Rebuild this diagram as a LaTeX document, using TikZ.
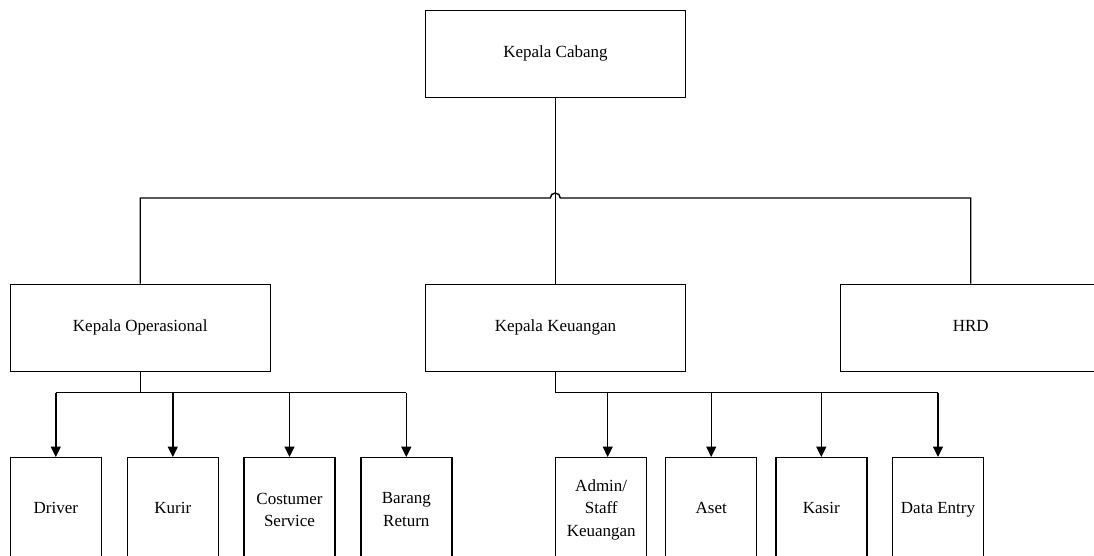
\documentclass[tikz,border=0pt]{standalone}
\usepackage{fontspec}
\setmainfont{Liberation Serif}
\usetikzlibrary{arrows.meta,calc}
\begin{document}
\begin{tikzpicture}[x=1pt,y=-1pt,
  box/.style={draw,line width=1.4pt,inner sep=0pt,minimum width=260pt,minimum height=87pt,
    font=\fontsize{17}{22.5}\selectfont,align=center,text height=11.5pt,text depth=3.5pt},
  sub/.style={draw,line width=1.4pt,inner sep=0pt,minimum width=91pt,minimum height=104pt,
    font=\fontsize{17}{22.5}\selectfont,align=center},
  one/.style={text height=11.5pt,text depth=3.5pt},
  conn/.style={line width=1.4pt},
  arr/.style={line width=1.4pt,-{Triangle[length=10.5pt,width=10pt]}}]
\useasboundingbox (0,0) rectangle (1094,556);
\clip (0,0) rectangle (1094,556);
\fill[white] (0,0) rectangle (1094,556);
% top
\node[box] (kc) at (555.5,53.8) {Kepala Cabang};
\node[box] (ko) at (140.2,327.7) {Kepala Operasional};
\node[box] (kk) at (555.5,327.7) {Kepala Keuangan};
\node[box] (hrd) at (970.7,327.7) {HRD};
% bottom left
\node[sub,one] (driver) at (55.8,509.7) {Driver};
\node[sub,one] (kurir) at (172.8,509.7) {Kurir};
\node[sub] (cs) at (289.5,509.7) {Costumer\\Service};
\node[sub] (barang) at (406.3,509.7) {Barang\\Return};
% bottom right
\node[sub] (admin) at (601.2,509.7) {Admin/\\Staff\\Keuangan};
\node[sub,one] (aset) at (711.2,509.7) {Aset};
\node[sub,one] (kasir) at (821.3,509.7) {Kasir};
\node[sub,one] (de) at (938,509.7) {Data Entry};
% top bus
\coordinate (jl) at (550.3,198);
\coordinate (jr) at (560.3,198);
\draw[conn] (kc.south) -- (kk.north);
\draw[conn] (ko.north) |- (jl) arc[start angle=180,end angle=0,radius=5pt] -| (hrd.north);
% operational bus
\coordinate (ob) at (140.2,392.7);
\draw[conn] (ko.south) -- (ob);
\draw[conn] (driver.north |- ob) -- (barang.north |- ob);
\foreach \n in {driver,kurir,cs,barang}{
  \draw[arr] (\n.north |- ob) -- (\n.north);
}
% keuangan bus
\coordinate (kb) at (555.5,392.7);
\coordinate (at) at ($(admin.north)+(6.5,0)$);
\draw[conn] (kk.south) -- (kb) -- (de.north |- kb);
\draw[arr] (at |- kb) -- (at);
\foreach \n in {aset,kasir,de}{
  \draw[arr] (\n.north |- kb) -- (\n.north);
}
\end{tikzpicture}
\end{document}
